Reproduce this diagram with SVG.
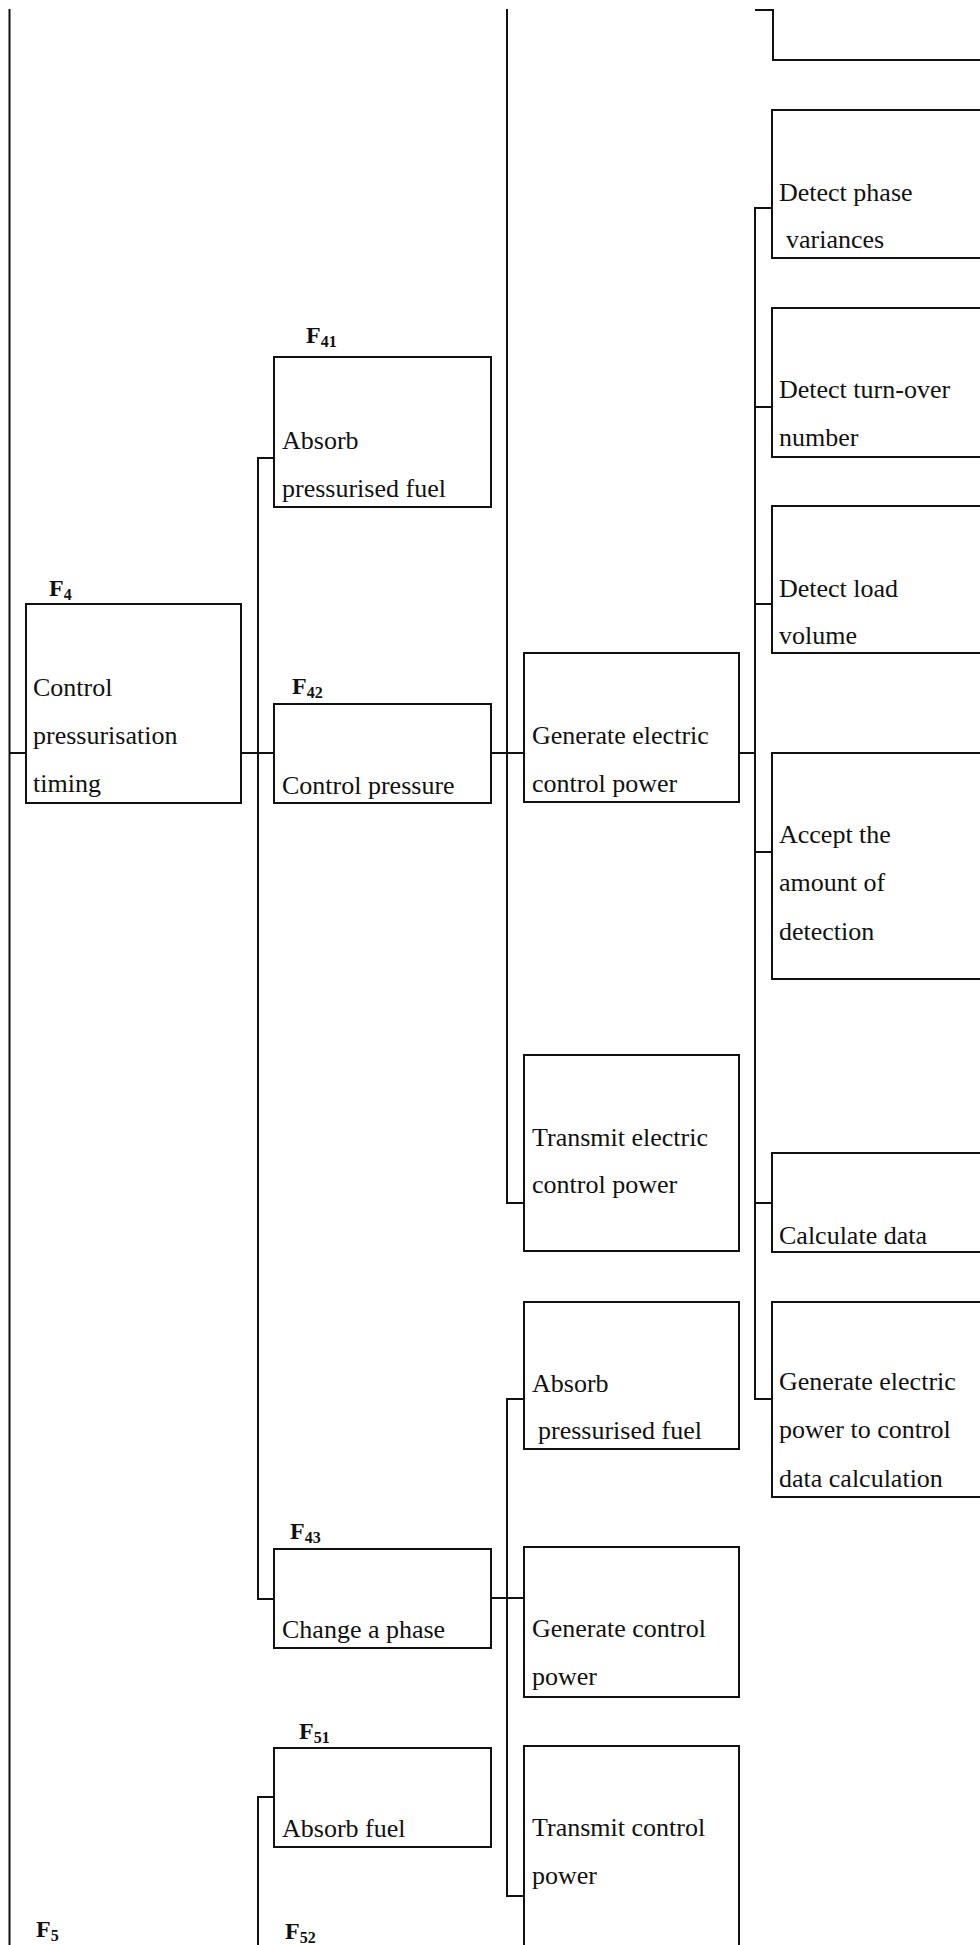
<svg xmlns="http://www.w3.org/2000/svg" width="980" height="1945" viewBox="0 0 980 1945">
  <style>
    .box { fill: #fff; stroke: #111; stroke-width: 2; }
    .ln { fill: none; stroke: #111; stroke-width: 2; stroke-linecap: square; }
    .t { font-family: "Liberation Serif", "Times New Roman", serif; font-size: 26px; fill: #111; }
    .lbl { font-family: "Liberation Serif", "Times New Roman", serif; font-size: 24px; font-weight: bold; fill: #111; }
    .sub { font-size: 16px; }
  </style>
  <rect width="980" height="1945" fill="#fff"/>

  <!-- connectors -->
  <g id="connectors" class="ln">
    <!-- left spine and F4 stub -->
    <path d="M9.5 10 V1945 M9.5 753 H26"/>
    <!-- F4 to F41 / F42 / F43 -->
    <path d="M241 753 H274 M258 458 V1599 M258 458 H274 M258 1599 H274"/>
    <!-- F5 branch -->
    <path d="M258 1797 V1945 M258 1797 H274"/>
    <!-- F42 to its sub-functions -->
    <path d="M491 753 H524 M507 10 V1203 H524"/>
    <!-- electric control power to detection / calculation steps -->
    <path d="M739 753 H755 M755 208 V1399 M755 208 H772 M755 407 H772 M755 604 H772 M755 852 H772 M755 1203 H772 M755 1399 H772"/>
    <!-- F43 to its sub-functions -->
    <path d="M491 1598 H524 M507 1399 V1896 M507 1399 H524 M507 1896 H524"/>
    <!-- top right: stub and corner of a box continued from above -->
    <path d="M756 10 H773 V60 H980"/>
  </g>

  <!-- F4 -->
  <g id="f4">
    <text class="lbl" x="49" y="596">F<tspan class="sub" dy="4">4</tspan></text>
    <rect class="box" x="26" y="604" width="215" height="199"/>
    <text class="t" x="33" y="696">Control</text>
    <text class="t" x="33" y="744">pressurisation</text>
    <text class="t" x="33" y="792">timing</text>
  </g>

  <!-- F41 -->
  <g id="f41">
    <text class="lbl" x="306" y="343">F<tspan class="sub" dy="4">41</tspan></text>
    <rect class="box" x="274" y="357" width="217" height="150"/>
    <text class="t" x="282" y="449">Absorb</text>
    <text class="t" x="282" y="497">pressurised fuel</text>
  </g>

  <!-- F42 -->
  <g id="f42">
    <text class="lbl" x="292" y="694">F<tspan class="sub" dy="4">42</tspan></text>
    <rect class="box" x="274" y="704" width="217" height="99"/>
    <text class="t" x="282" y="794">Control pressure</text>
  </g>

  <!-- F43 -->
  <g id="f43">
    <text class="lbl" x="290" y="1539">F<tspan class="sub" dy="4">43</tspan></text>
    <rect class="box" x="274" y="1549" width="217" height="99"/>
    <text class="t" x="282" y="1638">Change a phase</text>
  </g>

  <!-- F51 -->
  <g id="f51">
    <text class="lbl" x="299" y="1739">F<tspan class="sub" dy="4">51</tspan></text>
    <rect class="box" x="274" y="1748" width="217" height="99"/>
    <text class="t" x="282" y="1837">Absorb fuel</text>
  </g>

  <!-- F5 and F52 labels (boxes continue below) -->
  <g id="f5">
    <text class="lbl" x="36" y="1937">F<tspan class="sub" dy="4">5</tspan></text>
  </g>
  <g id="f52">
    <text class="lbl" x="285" y="1939">F<tspan class="sub" dy="4">52</tspan></text>
  </g>

  <!-- middle column -->
  <g id="gen-electric-control-power">
    <rect class="box" x="524" y="653" width="215" height="149"/>
    <text class="t" x="532" y="744">Generate electric</text>
    <text class="t" x="532" y="792">control power</text>
  </g>
  <g id="transmit-electric-control-power">
    <rect class="box" x="524" y="1055" width="215" height="196"/>
    <text class="t" x="532" y="1146">Transmit electric</text>
    <text class="t" x="532" y="1193">control power</text>
  </g>
  <g id="absorb-pressurised-fuel-2">
    <rect class="box" x="524" y="1302" width="215" height="147"/>
    <text class="t" x="532" y="1392">Absorb</text>
    <text class="t" x="538" y="1439">pressurised fuel</text>
  </g>
  <g id="gen-control-power">
    <rect class="box" x="524" y="1547" width="215" height="150"/>
    <text class="t" x="532" y="1637">Generate control</text>
    <text class="t" x="532" y="1685">power</text>
  </g>
  <g id="transmit-control-power">
    <rect class="box" x="524" y="1746" width="215" height="230"/>
    <text class="t" x="532" y="1836">Transmit control</text>
    <text class="t" x="532" y="1884">power</text>
  </g>

  <!-- right column -->
  <g id="detect-phase-variances">
    <rect class="box" x="772" y="110" width="220" height="148"/>
    <text class="t" x="779" y="201">Detect phase</text>
    <text class="t" x="786" y="248">variances</text>
  </g>
  <g id="detect-turn-over-number">
    <rect class="box" x="772" y="308" width="220" height="149"/>
    <text class="t" x="779" y="398">Detect turn-over</text>
    <text class="t" x="779" y="446">number</text>
  </g>
  <g id="detect-load-volume">
    <rect class="box" x="772" y="506" width="220" height="147"/>
    <text class="t" x="779" y="597">Detect load</text>
    <text class="t" x="779" y="644">volume</text>
  </g>
  <g id="accept-amount-of-detection">
    <rect class="box" x="772" y="753" width="220" height="226"/>
    <text class="t" x="779" y="843">Accept the</text>
    <text class="t" x="779" y="891">amount of</text>
    <text class="t" x="779" y="940">detection</text>
  </g>
  <g id="calculate-data">
    <rect class="box" x="772" y="1153" width="220" height="99"/>
    <text class="t" x="779" y="1244">Calculate data</text>
  </g>
  <g id="gen-electric-power-calc">
    <rect class="box" x="772" y="1302" width="220" height="195"/>
    <text class="t" x="779" y="1390">Generate electric</text>
    <text class="t" x="779" y="1438">power to control</text>
    <text class="t" x="779" y="1487">data calculation</text>
  </g>
</svg>
